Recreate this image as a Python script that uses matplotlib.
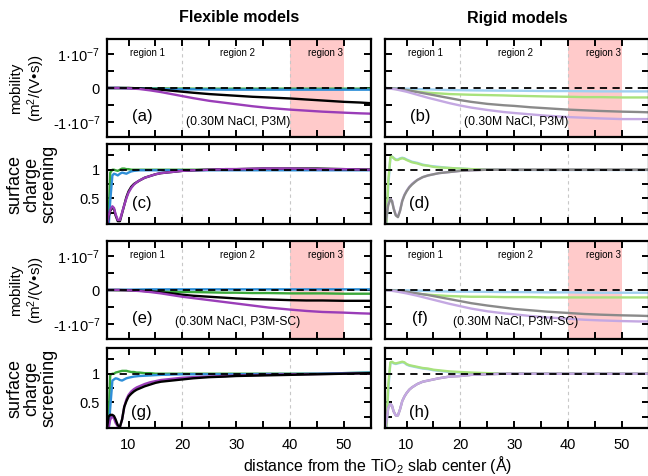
import matplotlib
matplotlib.use("Agg")
import matplotlib.pyplot as plt
from matplotlib.ticker import MultipleLocator, FixedLocator, FixedFormatter
import numpy as np

plt.rcParams['font.family'] = ['Liberation Sans', 'DejaVu Sans']
plt.rcParams['mathtext.fontset'] = 'custom'
plt.rcParams['mathtext.rm'] = 'Liberation Sans'
plt.rcParams['mathtext.it'] = 'Liberation Sans:italic'
plt.rcParams['mathtext.bf'] = 'Liberation Sans:bold'

# distance grids (Angstrom)
x_mob = [6, 8, 10, 12, 14, 16, 18, 20, 22, 25, 28, 30, 33, 36, 40, 43, 46, 50, 53, 55]
x_scr = [6.0, 6.3, 6.6, 7.0, 7.3, 7.6, 8.0, 8.4, 8.8, 9.2, 9.6, 10.0, 10.5, 11, 11.5, 12,
         13, 14, 15, 16, 18, 20, 22, 25, 28, 30, 35, 40, 45, 50, 55]

# mobility, in units of 1e-7 m^2/(V s)
# (a) flexible, P3M
mob_a_green = [0, 0, 0, -0.01, -0.01, -0.01, -0.015, -0.015, -0.02, -0.02, -0.02, -0.02, -0.02, -0.02, -0.02, -0.02, -0.02, -0.02, -0.02, -0.02]
mob_a_blue = [0, 0, -0.005, -0.01, -0.02, -0.03, -0.035, -0.04, -0.04, -0.045, -0.05, -0.05, -0.05, -0.05, -0.05, -0.05, -0.05, -0.05, -0.05, -0.05]
mob_a_black = [0, 0, 0, -0.01, -0.03, -0.05, -0.08, -0.11, -0.14, -0.18, -0.21, -0.23, -0.26, -0.28, -0.31, -0.34, -0.37, -0.41, -0.43, -0.45]
mob_a_purple = [0, 0, -0.01, -0.03, -0.07, -0.12, -0.18, -0.24, -0.3, -0.38, -0.44, -0.48, -0.54, -0.59, -0.64, -0.67, -0.7, -0.73, -0.75, -0.76]
# (b) rigid, P3M
mob_b_blue = [0, -0.01, -0.02, -0.03, -0.04, -0.05, -0.06, -0.065, -0.07, -0.075, -0.08, -0.08, -0.085, -0.09, -0.09, -0.095, -0.1, -0.1, -0.1, -0.1]
mob_b_green = [0, -0.03, -0.07, -0.11, -0.14, -0.16, -0.18, -0.19, -0.2, -0.21, -0.22, -0.23, -0.24, -0.25, -0.26, -0.27, -0.27, -0.28, -0.28, -0.28]
mob_b_gray = [0, -0.02, -0.06, -0.12, -0.18, -0.24, -0.3, -0.36, -0.41, -0.47, -0.51, -0.53, -0.57, -0.6, -0.64, -0.66, -0.68, -0.7, -0.71, -0.72]
mob_b_purple = [0, -0.04, -0.11, -0.2, -0.29, -0.37, -0.45, -0.52, -0.58, -0.65, -0.71, -0.74, -0.78, -0.82, -0.86, -0.88, -0.9, -0.92, -0.92, -0.92]
# (e) flexible, P3M-SC
mob_e_green = [0, -0.005, -0.01, -0.02, -0.03, -0.04, -0.05, -0.06, -0.06, -0.07, -0.08, -0.08, -0.09, -0.09, -0.1, -0.1, -0.1, -0.11, -0.11, -0.11]
mob_e_blue = [0, 0.005, 0.01, 0.015, 0.02, 0.02, 0.02, 0.02, 0.02, 0.02, 0.02, 0.02, 0.02, 0.02, 0.02, 0.02, 0.02, 0.02, 0.02, 0.02]
mob_e_black = [0, 0, -0.005, -0.02, -0.04, -0.07, -0.1, -0.14, -0.17, -0.2, -0.23, -0.25, -0.27, -0.28, -0.3, -0.31, -0.31, -0.32, -0.32, -0.32]
mob_e_purple = [0, 0, -0.01, -0.03, -0.06, -0.1, -0.15, -0.2, -0.24, -0.3, -0.36, -0.4, -0.46, -0.52, -0.58, -0.62, -0.65, -0.67, -0.69, -0.7]
# (f) rigid, P3M-SC
mob_f_blue = [0, -0.005, -0.01, -0.02, -0.03, -0.04, -0.045, -0.05, -0.05, -0.055, -0.06, -0.06, -0.065, -0.07, -0.07, -0.075, -0.08, -0.08, -0.08, -0.08]
mob_f_green = [0, -0.03, -0.07, -0.11, -0.14, -0.16, -0.18, -0.19, -0.2, -0.2, -0.21, -0.21, -0.21, -0.22, -0.22, -0.22, -0.22, -0.22, -0.22, -0.22]
mob_f_gray = [0, -0.02, -0.05, -0.1, -0.15, -0.21, -0.27, -0.33, -0.39, -0.46, -0.52, -0.56, -0.6, -0.64, -0.68, -0.71, -0.73, -0.75, -0.76, -0.77]
mob_f_purple = [0, -0.04, -0.1, -0.17, -0.25, -0.33, -0.41, -0.48, -0.55, -0.63, -0.69, -0.72, -0.77, -0.81, -0.85, -0.88, -0.9, -0.92, -0.93, -0.93]

# surface charge screening
# (c) flexible, P3M
scr_c_green = [0.0, 0.15, 0.95, 1.0, 1.0, 0.99, 0.98, 1.0, 1.02, 1.02, 1.01, 1.01, 1.0, 1.0, 1.0, 1.0, 1.0, 1.0, 1.0, 1.0, 1.0, 1.0, 1.0, 1.0, 1.0, 1.0, 1.0, 1.0, 1.0, 1.0, 1.0]
scr_c_blue = [0.0, 0.0, 0.45, 0.9, 0.93, 0.92, 0.9, 0.93, 0.95, 0.94, 0.93, 0.95, 0.97, 0.98, 0.985, 0.99, 0.99, 0.99, 0.99, 0.99, 0.99, 0.99, 0.99, 0.99, 0.99, 0.99, 0.99, 0.99, 0.99, 0.99, 0.99]
scr_c_black = [0.0, 0.18, 0.28, 0.34, 0.31, 0.2, 0.1, 0.1, 0.24, 0.38, 0.52, 0.62, 0.7, 0.75, 0.78, 0.81, 0.86, 0.89, 0.92, 0.94, 0.96, 0.98, 0.99, 1.0, 1.01, 1.01, 1.02, 1.02, 1.02, 1.01, 1.0]
scr_c_purple = [0.02, 0.2, 0.3, 0.36, 0.33, 0.22, 0.12, 0.12, 0.25, 0.38, 0.5, 0.6, 0.68, 0.74, 0.78, 0.81, 0.86, 0.89, 0.92, 0.94, 0.96, 0.98, 0.99, 1.0, 1.01, 1.01, 1.02, 1.02, 1.01, 1.01, 1.0]
# (d) rigid, P3M
scr_d_blue = [0.0, 0.05, 0.7, 1.21, 1.23, 1.21, 1.18, 1.18, 1.2, 1.21, 1.2, 1.18, 1.16, 1.14, 1.13, 1.12, 1.09, 1.07, 1.06, 1.05, 1.03, 1.02, 1.01, 1.0, 1.0, 0.995, 0.995, 0.995, 0.995, 0.995, 0.995]
scr_d_green = [0.0, 0.1, 0.8, 1.22, 1.23, 1.2, 1.17, 1.17, 1.19, 1.2, 1.19, 1.17, 1.15, 1.13, 1.12, 1.11, 1.08, 1.07, 1.05, 1.04, 1.03, 1.02, 1.01, 1.005, 1.0, 1.0, 1.0, 1.0, 1.0, 1.0, 1.0]
scr_d_purple = [0.0, 0.22, 0.4, 0.49, 0.46, 0.33, 0.21, 0.18, 0.29, 0.46, 0.56, 0.63, 0.7, 0.75, 0.79, 0.82, 0.87, 0.9, 0.92, 0.94, 0.96, 0.98, 0.99, 1.0, 1.0, 1.0, 1.0, 1.0, 1.0, 1.0, 1.0]
scr_d_gray = [0.0, 0.2, 0.38, 0.48, 0.45, 0.32, 0.2, 0.17, 0.28, 0.45, 0.55, 0.62, 0.69, 0.74, 0.78, 0.82, 0.87, 0.9, 0.92, 0.94, 0.96, 0.98, 0.99, 1.0, 1.0, 1.0, 1.0, 1.0, 1.0, 1.0, 1.0]
# (g) flexible, P3M-SC
scr_g_green = [0.0, 0.2, 0.98, 1.0, 1.0, 1.02, 1.03, 1.04, 1.05, 1.05, 1.05, 1.04, 1.03, 1.03, 1.02, 1.02, 1.01, 1.01, 1.0, 1.0, 1.0, 1.0, 1.0, 1.0, 1.0, 1.0, 1.0, 1.0, 1.0, 1.01, 1.02]
scr_g_blue = [0.0, 0.0, 0.4, 0.88, 0.9, 0.92, 0.91, 0.89, 0.88, 0.9, 0.92, 0.93, 0.94, 0.95, 0.955, 0.96, 0.965, 0.97, 0.975, 0.98, 0.985, 0.99, 0.99, 0.99, 0.99, 0.99, 0.995, 0.995, 1.0, 1.01, 1.02]
scr_g_purple = [0.0, 0.05, 0.2, 0.25, 0.22, 0.14, 0.08, 0.07, 0.2, 0.42, 0.55, 0.63, 0.69, 0.73, 0.76, 0.78, 0.82, 0.85, 0.87, 0.89, 0.91, 0.93, 0.94, 0.95, 0.96, 0.97, 0.98, 0.99, 0.995, 1.0, 1.01]
scr_g_black = [0.05, 0.25, 0.28, 0.28, 0.26, 0.2, 0.1, 0.07, 0.2, 0.42, 0.52, 0.6, 0.65, 0.69, 0.72, 0.74, 0.78, 0.81, 0.84, 0.86, 0.88, 0.9, 0.92, 0.94, 0.95, 0.96, 0.97, 0.98, 0.99, 1.0, 1.01]
# (h) rigid, P3M-SC
scr_h_blue = [0.0, 0.05, 0.7, 1.19, 1.2, 1.18, 1.17, 1.18, 1.19, 1.2, 1.19, 1.16, 1.14, 1.13, 1.12, 1.11, 1.09, 1.08, 1.06, 1.05, 1.03, 1.02, 1.01, 1.0, 1.0, 1.0, 1.0, 1.0, 1.0, 1.0, 1.0]
scr_h_green = [0.0, 0.1, 0.8, 1.2, 1.21, 1.19, 1.18, 1.19, 1.2, 1.21, 1.2, 1.17, 1.15, 1.14, 1.13, 1.12, 1.1, 1.09, 1.07, 1.06, 1.04, 1.03, 1.02, 1.01, 1.0, 1.0, 1.0, 1.0, 1.0, 1.0, 1.0]
scr_h_gray = [0.0, 0.2, 0.4, 0.47, 0.44, 0.34, 0.27, 0.27, 0.38, 0.52, 0.6, 0.66, 0.72, 0.76, 0.79, 0.82, 0.86, 0.88, 0.9, 0.92, 0.95, 0.96, 0.98, 0.99, 1.0, 1.0, 1.0, 1.0, 1.0, 1.0, 1.0]
scr_h_purple = [0.0, 0.2, 0.4, 0.47, 0.44, 0.34, 0.27, 0.27, 0.38, 0.52, 0.6, 0.66, 0.72, 0.76, 0.79, 0.82, 0.86, 0.88, 0.9, 0.92, 0.95, 0.96, 0.98, 0.99, 1.0, 1.0, 1.0, 1.0, 1.0, 1.0, 1.0]

mob_ticks = [-1e-7, 0, 1e-7]
mob_ticklabels = ['-1·10$^{-7}$', '0', '1·10$^{-7}$']
scr_ticks = [0.5, 1]
scr_ticklabels = ['0.5', '1']
region_labels = ['region 1', 'region 2', 'region 3']
region_label_x = [13.6, 30.2, 46.6]

# colours: flexible set is saturated, rigid set is pale
FLEX = {'green': '#3aa83a', 'blue': '#2f8fd8', 'black': '#000000', 'purple': '#9a3db8'}
RIGID = {'green': '#a8e27c', 'blue': '#9fd0f0', 'gray': '#8a8a8a', 'purple': '#c4a8e2'}

W, H = 648, 476
fig = plt.figure(figsize=(W / 100, H / 100), dpi=100)


def make_axes(left, top, width, height):
    return fig.add_axes([left / W, 1 - (top + height) / H, width / W, height / H])


def style(ax, kind, ylabels, xlabels):
    ax.set_xlim(6, 55)
    ax.xaxis.set_major_locator(MultipleLocator(10))
    ax.xaxis.set_minor_locator(MultipleLocator(5))
    if kind == 'mob':
        ax.set_ylim(-1.45e-7, 1.45e-7)
        ax.yaxis.set_major_locator(FixedLocator(mob_ticks))
        ax.yaxis.set_minor_locator(FixedLocator([-0.5e-7, 0.5e-7]))
        ax.yaxis.set_major_formatter(FixedFormatter(mob_ticklabels))
        ax.axhline(0, color='k', ls=(0, (4, 3)), lw=1.3, zorder=5)
        ax.axvspan(40, 50, color='#ffcaca', lw=0, zorder=0)
        for lab, xl in zip(region_labels, region_label_x):
            ax.text(xl, 1.03e-7, lab, ha='center', va='center', fontsize=7)
    else:
        ax.set_ylim(0.05, 1.45)
        ax.yaxis.set_major_locator(FixedLocator(scr_ticks))
        ax.yaxis.set_minor_locator(FixedLocator([0.25, 0.75, 1.25]))
        ax.yaxis.set_major_formatter(FixedFormatter(scr_ticklabels))
        ax.axhline(1, color='k', ls=(0, (4, 3)), lw=1.3, zorder=5)
    for xv in (20, 40):
        ax.axvline(xv, color='#c8c8c8', ls=(0, (3, 3)), lw=0.8, zorder=0.5)
    ax.tick_params(which='both', direction='in', top=True, right=True,
                   length=5, width=1.4, labelsize=10.5)
    ax.tick_params(axis='x', pad=7)
    ax.tick_params(axis='y', pad=5)
    for sp in ax.spines.values():
        sp.set_linewidth(1.6)
    if not ylabels:
        ax.tick_params(labelleft=False)
    if not xlabels:
        ax.tick_params(labelbottom=False)


LEFT_X, RIGHT_X, PW = 107, 385, 264
rows = [(39, 98, 'mob'), (144, 80, 'scr'), (241, 98, 'mob'), (348, 80, 'scr')]

axes = []
for i, (top, h, kind) in enumerate(rows):
    axl = make_axes(LEFT_X, top, PW, h)
    axr = make_axes(RIGHT_X, top, PW, h)
    style(axl, kind, True, i == 3)
    style(axr, kind, False, i == 3)
    axes.append((axl, axr))

lw = 1.7
xm = np.array(x_mob)
xs = np.array(x_scr)
s = 1e-7

# mobility panels
ax_a, ax_b = axes[0]
ax_a.plot(xm, np.array(mob_a_green) * s, color=FLEX['green'], lw=lw)
ax_a.plot(xm, np.array(mob_a_blue) * s, color=FLEX['blue'], lw=lw)
ax_a.plot(xm, np.array(mob_a_black) * s, color=FLEX['black'], lw=lw)
ax_a.plot(xm, np.array(mob_a_purple) * s, color=FLEX['purple'], lw=lw)
ax_b.plot(xm, np.array(mob_b_blue) * s, color=RIGID['blue'], lw=lw)
ax_b.plot(xm, np.array(mob_b_green) * s, color=RIGID['green'], lw=lw)
ax_b.plot(xm, np.array(mob_b_gray) * s, color=RIGID['gray'], lw=lw)
ax_b.plot(xm, np.array(mob_b_purple) * s, color=RIGID['purple'], lw=lw)

ax_e, ax_f = axes[2]
ax_e.plot(xm, np.array(mob_e_green) * s, color=FLEX['green'], lw=lw)
ax_e.plot(xm, np.array(mob_e_blue) * s, color=FLEX['blue'], lw=lw)
ax_e.plot(xm, np.array(mob_e_black) * s, color=FLEX['black'], lw=lw)
ax_e.plot(xm, np.array(mob_e_purple) * s, color=FLEX['purple'], lw=lw)
ax_f.plot(xm, np.array(mob_f_blue) * s, color=RIGID['blue'], lw=lw)
ax_f.plot(xm, np.array(mob_f_green) * s, color=RIGID['green'], lw=lw)
ax_f.plot(xm, np.array(mob_f_gray) * s, color=RIGID['gray'], lw=lw)
ax_f.plot(xm, np.array(mob_f_purple) * s, color=RIGID['purple'], lw=lw)

# screening panels
ax_c, ax_d = axes[1]
ax_c.plot(xs, scr_c_green, color=FLEX['green'], lw=lw)
ax_c.plot(xs, scr_c_blue, color=FLEX['blue'], lw=lw)
ax_c.plot(xs, scr_c_black, color=FLEX['black'], lw=lw)
ax_c.plot(xs, scr_c_purple, color=FLEX['purple'], lw=lw)
ax_d.plot(xs, scr_d_blue, color=RIGID['blue'], lw=lw)
ax_d.plot(xs, scr_d_green, color=RIGID['green'], lw=lw)
ax_d.plot(xs, scr_d_purple, color=RIGID['purple'], lw=lw)
ax_d.plot(xs, scr_d_gray, color=RIGID['gray'], lw=lw)

ax_g, ax_h = axes[3]
ax_g.plot(xs, scr_g_green, color=FLEX['green'], lw=lw)
ax_g.plot(xs, scr_g_blue, color=FLEX['blue'], lw=lw)
ax_g.plot(xs, scr_g_purple, color=FLEX['purple'], lw=lw)
ax_g.plot(xs, scr_g_black, color=FLEX['black'], lw=lw)
ax_h.plot(xs, scr_h_blue, color=RIGID['blue'], lw=lw)
ax_h.plot(xs, scr_h_green, color=RIGID['green'], lw=lw)
ax_h.plot(xs, scr_h_gray, color=RIGID['gray'], lw=lw)
ax_h.plot(xs, scr_h_purple, color=RIGID['purple'], lw=lw)

# panel letters and run descriptions
for ax, letter in [(ax_a, '(a)'), (ax_b, '(b)'), (ax_e, '(e)'), (ax_f, '(f)')]:
    ax.text(12.5, -0.85e-7, letter, ha='center', va='center', fontsize=12)
for ax, letter, yl in [(ax_c, '(c)', 0.41), (ax_d, '(d)', 0.41), (ax_g, '(g)', 0.33), (ax_h, '(h)', 0.33)]:
    ax.text(12.4, yl, letter, ha='center', va='center', fontsize=12)
for ax in (ax_a, ax_b):
    ax.text(30.3, -1.0e-7, '(0.30M NaCl, P3M)', ha='center', va='center', fontsize=8.7)
for ax in (ax_e, ax_f):
    ax.text(30.2, -0.95e-7, '(0.30M NaCl, P3M-SC)', ha='center', va='center', fontsize=8.7)

fig.text(239 / W, 1 - 18 / H, 'Flexible models', ha='center', va='center',
         fontsize=11.5, fontweight='bold')
fig.text(517 / W, 1 - 18 / H, 'Rigid models', ha='center', va='center',
         fontsize=11.5, fontweight='bold')

for top, h, kind in rows:
    yc = 1 - (top + h / 2) / H
    if kind == 'mob':
        fig.text(28 / W, yc, 'mobility\n(m$^2$/(V•s))', rotation=90, ha='center',
                 va='center', multialignment='center', fontsize=11, linespacing=1.15)
    else:
        fig.text(32 / W, yc, 'surface\ncharge\nscreening', rotation=90, ha='center',
                 va='center', multialignment='center', fontsize=13, linespacing=1.03)

fig.text(378 / W, 1 - 465 / H, 'distance from the TiO$_2$ slab center (Å)',
         ha='center', va='center', fontsize=11.5)

fig.savefig('out.png', dpi=100)
